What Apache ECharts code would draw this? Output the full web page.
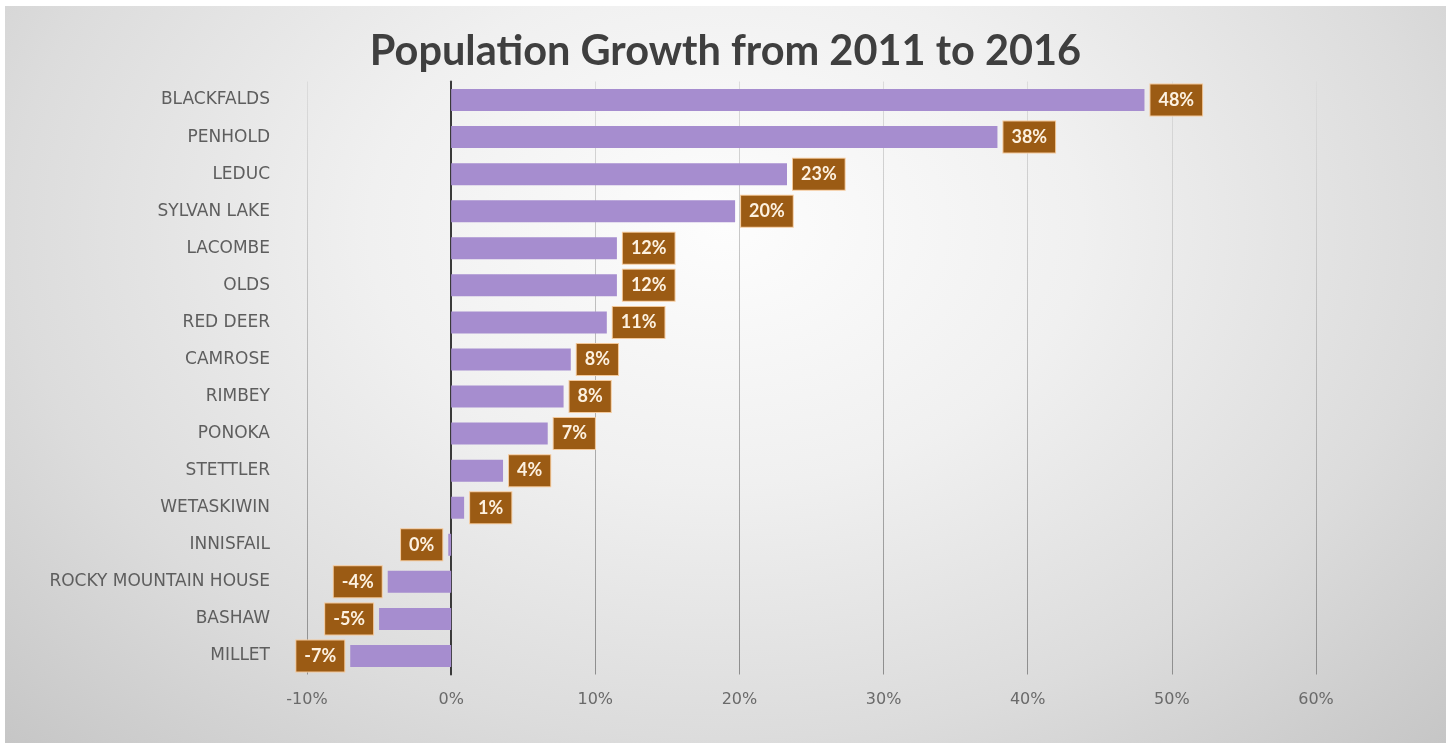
<!DOCTYPE html>
<html>
<head>
<meta charset="utf-8">
<title>Population Growth from 2011 to 2016</title>
<script src="https://cdn.jsdelivr.net/npm/echarts@6/dist/echarts.min.js"></script>
<style>
  html, body { margin: 0; padding: 0; background: #ffffff; }
  #chart {
    position: absolute; left: 5px; top: 6px; width: 1441px; height: 737px;
    background: radial-gradient(ellipse at 50% 30%, #fdfdfd 0%, #f0f0f0 35%, #dcdcdc 70%, #c6c6c6 100%);
  }
</style>
</head>
<body>
<div id="chart"></div>
<script>
// Towns, top to bottom
const towns = [
  'BLACKFALDS', 'PENHOLD', 'LEDUC', 'SYLVAN LAKE', 'LACOMBE', 'OLDS',
  'RED DEER', 'CAMROSE', 'RIMBEY', 'PONOKA', 'STETTLER', 'WETASKIWIN',
  'INNISFAIL', 'ROCKY MOUNTAIN HOUSE', 'BASHAW', 'MILLET'
];
// Population growth 2011-2016, percent
const growth = [
  48.1, 37.9, 23.3, 19.7, 11.5, 11.5,
  10.8, 8.3, 7.8, 6.7, 3.6, 0.9,
  -0.2, -4.4, -5.0, -7.0
];
// Value axis range and step, percent
const axisMin = -10;
const axisMax = 60;
const axisStep = 10;

const titleFont = 'Lato, "DejaVu Sans", sans-serif';
const axisFont = '"DejaVu Sans", Lato, sans-serif';

const chart = echarts.init(document.getElementById('chart'), null, { renderer: 'canvas' });

const barData = growth.map(v => ({
  value: v,
  label: { position: v < 0 ? 'left' : 'right' }
}));

// Grid lines fade from light at the top to darker at the bottom
const gridLineColor = new echarts.graphic.LinearGradient(0, 74, 0, 668, [
  { offset: 0, color: '#dcdcdc' },
  { offset: 1, color: '#8e8e8e' }
], true);

chart.setOption({
  backgroundColor: 'transparent',
  animation: false,
  title: {
    text: 'Population Growth from 2011 to 2016',
    left: 'center',
    top: 20,
    textStyle: { fontFamily: titleFont, fontWeight: 'bold', fontSize: 41.5, color: '#3f3f3f' }
  },
  grid: { left: 302, right: 130, top: 75.5, bottom: 68.5, containLabel: false },
  xAxis: {
    type: 'value',
    min: axisMin,
    max: axisMax,
    interval: axisStep,
    axisLine: { show: false },
    axisTick: { show: false },
    axisLabel: {
      margin: 17,
      fontFamily: axisFont, fontSize: 16, color: '#6a6a6a',
      formatter: v => v + '%'
    },
    splitLine: { show: true, lineStyle: { color: gridLineColor, width: 1 } }
  },
  yAxis: {
    type: 'category',
    data: towns,
    inverse: true,
    axisLine: { show: true, onZero: true, lineStyle: { color: '#3a3a3a', width: 2 } },
    axisTick: { show: false },
    axisLabel: {
      margin: 37,
      fontFamily: axisFont, fontSize: 17, color: '#5e5e5e'
    }
  },
  series: [{
    type: 'bar',
    data: barData,
    barWidth: 22,
    itemStyle: { color: '#a68dcf' },
    label: {
      show: true,
      distance: 6,
      formatter: p => Math.round(p.value) + '%',
      fontFamily: titleFont, fontWeight: 'bold', fontSize: 18, color: '#fdf1e0',
      backgroundColor: '#9b5b14',
      borderColor: '#f3c89a',
      borderWidth: 1,
      padding: [7, 8, 6, 8]
    }
  }]
});
</script>
</body>
</html>
